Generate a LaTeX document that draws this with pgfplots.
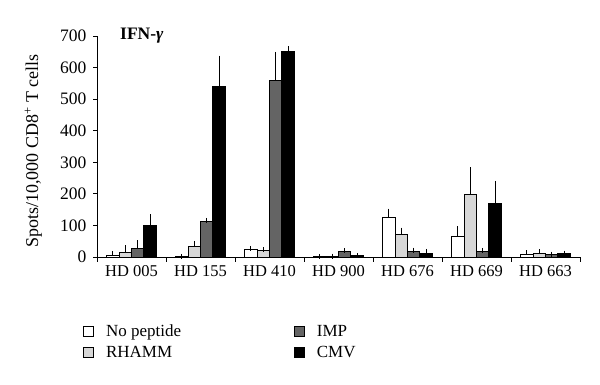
\documentclass[border=0pt]{standalone}
\usepackage{pgfplots}
\usepackage{pgfplotstable}
\pgfplotsset{compat=1.18}
\usepackage{fontspec}
\setmainfont{Liberation Serif}
\definecolor{lgray}{RGB}{215,215,215}
\definecolor{dgray}{RGB}{100,100,100}
\begin{document}
\pgfplotstableread{
x y e
0 5 5
1 2 0
2 23 4
3 1 0
4 125 20
5 65 25
6 9 4
}\nopep
\pgfplotstableread{
x y e
0 15 15
1 33 10
2 21 2
3 3 0
4 72 13
5 198 78
6 11 6
}\rhamm
\pgfplotstableread{
x y e
0 27 18
1 111 5
2 560 82
3 17 3
4 18 4
5 18 3
6 9 0
}\imp
\pgfplotstableread{
x y e
0 100 28
1 540 90
2 650 10
3 4 0
4 10 8
5 169 64
6 12 0
}\cmv
\begin{tikzpicture}
\begin{axis}[
  name=ax, clip=false,
  scale only axis, width=483pt, height=221pt,
  xmin=-0.5, xmax=6.5, ymin=0, ymax=700,
  axis x line*=bottom, axis y line*=left,
  axis line style={line width=0.9pt},
  ytick={0,100,...,700},
  xtick={0,...,6},
  xticklabels={HD 005,HD 155,HD 410,HD 900,HD 676,HD 669,HD 663},
  major x tick style={draw=none},
  minor xtick={-0.5,0.5,...,6.5},
  tick align=outside,
  tick style={black, line width=0.9pt},
  major tick length=4pt, minor tick length=5pt,
  xticklabel style={font=\fontsize{16.5}{19}\selectfont, yshift=-1pt},
  yticklabel style={font=\fontsize{17.5}{20}\selectfont, xshift=-3pt},
  /pgf/number format/assume math mode=true,
  ylabel={Spots/10,000 CD8\textsuperscript{+} T cells},
  ylabel style={font=\fontsize{18}{21}\selectfont, at={(axis description cs:-0.132,0.48)}, anchor=center},
  ybar, bar width=0.18,
  every axis plot/.append style={draw=black, line width=0.9pt,
    error bars/y dir=plus, error bars/y explicit,
    error bars/error bar style={black, line width=1.1pt},
    error bars/error mark=-, error bars/error mark options={black, mark size=2.5pt, line width=1.2pt}},
  legend columns=2, transpose legend,
  legend image code/.code={\draw[#1, line width=0.8pt] (0pt,-5pt) rectangle (10pt,5pt);},
  legend style={draw=none, at={(rel axis cs:0,0)}, anchor=north west,
    xshift=-17pt, yshift=-64pt, font=\fontsize{17}{19.5}\selectfont,
    row sep=4pt, cells={anchor=west},
    /tikz/every odd column/.append style={column sep=10pt},
    /tikz/every even column/.append style={column sep=111pt}},
]
\addplot[fill=white, bar shift=-0.27] table[x=x,y=y,y error=e]{\nopep};
\addlegendentry{No peptide}
\addplot[fill=lgray, bar shift=-0.09] table[x=x,y=y,y error=e]{\rhamm};
\addlegendentry{RHAMM}
\addplot[fill=dgray, bar shift=0.09] table[x=x,y=y,y error=e]{\imp};
\addlegendentry{IMP}
\addplot[fill=black, bar shift=0.27] table[x=x,y=y,y error=e]{\cmv};
\addlegendentry{CMV}
\end{axis}
\node[anchor=west, inner sep=0pt, font=\fontsize{17.5}{20}\selectfont\bfseries] at ([xshift=23pt,yshift=0pt]ax.north west) {IFN-\textit{γ}};
\path (ax.south west) ++(-97pt,-128pt) rectangle ([shift={(20pt,36pt)}]ax.north east);
\end{tikzpicture}
\end{document}
